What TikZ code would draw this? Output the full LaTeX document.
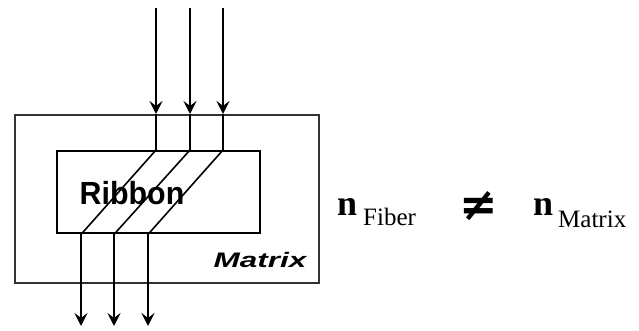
\documentclass[tikz,border=0pt]{standalone}
\usepackage{fontspec}
\setmainfont{Liberation Serif}
\newfontfamily\sansfam{Liberation Sans}
\newfontfamily\djvfam{DejaVu Sans}
\usetikzlibrary{arrows.meta}
\begin{document}
\begin{tikzpicture}[x=1pt,y=-1pt,
  boxst/.style={draw, line width=2.4pt, inner sep=0pt, anchor=north west},
  fib/.style={line width=2.6pt},
  arr/.style={-{Stealth[length=13pt,width=13pt,inset=5pt]}, line width=2.6pt},
  diag/.style={line width=1.6pt},
  ntext/.style={font=\bfseries\fontsize{36}{36}\selectfont, inner sep=0pt, anchor=base west},
  subtext/.style={font=\fontsize{25}{25}\selectfont, inner sep=0pt, anchor=base west}]
\useasboundingbox (0,0) rectangle (639,331);
% boxes
\node[boxst, draw=black!80, minimum width=304pt, minimum height=168pt] (mbox) at (14,114) {};
\node[boxst, minimum width=203pt, minimum height=82pt] (rib) at (56,150) {};
\node[font=\sansfam\bfseries\fontsize{32}{32}\selectfont, inner sep=0pt] (ribl) at (132,193) {\scalebox{0.95}[1]{Ribbon}};
\node[font=\sansfam\bfseries\itshape\fontsize{21}{21}\selectfont, inner sep=0pt] (matl) at (260,260) {\scalebox{1.5}[1]{Matrix}};
% fiber ends
\coordinate (t1) at (156,8);
\coordinate (t2) at (190,8);
\coordinate (t3) at (223,8);
\coordinate (b1) at (81,326);
\coordinate (b2) at (114,326);
\coordinate (b3) at (148,326);
\foreach \i in {1,2,3}{
  \draw[arr] (t\i) -- (t\i |- mbox.north);
  \draw[fib] (t\i |- mbox.north) -- (t\i |- rib.north);
  \draw[diag] (t\i |- rib.north) -- (b\i |- rib.south);
  \draw[arr] (b\i |- rib.south) -- (b\i);
}
% refractive indices
\node[ntext] (n1) at (337,215) {n};
\node[subtext] (s1) at (363,225) {Fiber};
\node[font=\djvfam\bfseries\fontsize{46}{46}\selectfont, inner sep=0pt] (neq) at (479,206) {≠};
\node[ntext] (n2) at (533,215) {n};
\node[subtext] (s2) at (558,227) {Matrix};
\end{tikzpicture}
\end{document}
